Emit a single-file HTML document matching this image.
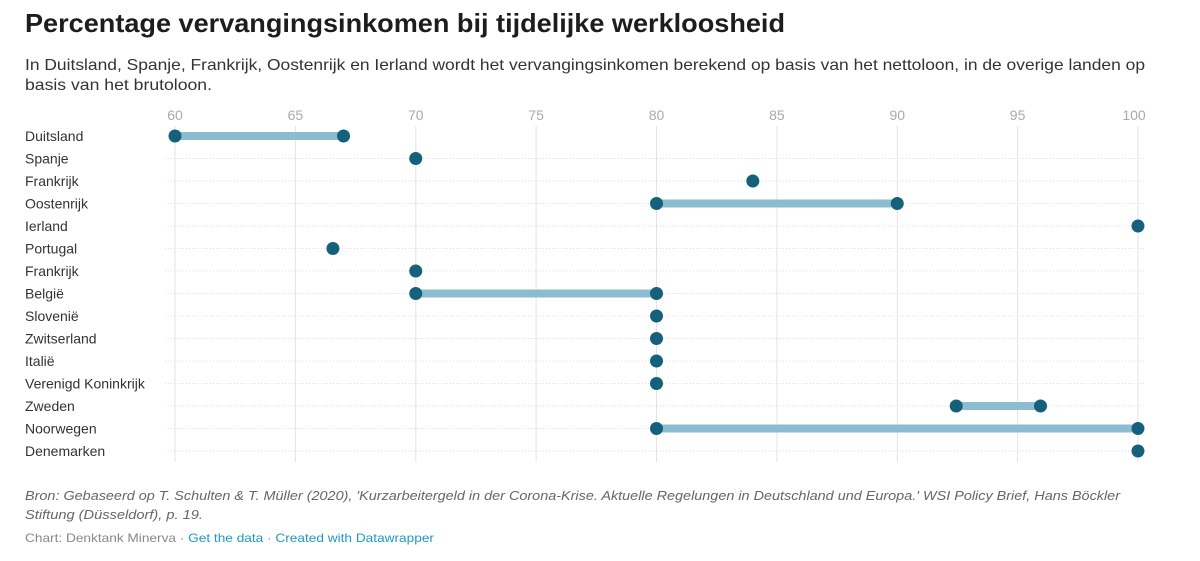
<!DOCTYPE html><html><head><meta charset="utf-8"><style>
body{margin:0;background:#fff;width:1200px;height:556px;overflow:hidden;font-family:"Liberation Sans",sans-serif}
</style></head><body>
<svg width="1200" height="556" xmlns="http://www.w3.org/2000/svg" font-family="Liberation Sans, sans-serif">
<text x="25" y="32" font-size="26" font-weight="bold" fill="#1d1d1d" textLength="760" lengthAdjust="spacingAndGlyphs">Percentage vervangingsinkomen bij tijdelijke werkloosheid</text>
<text x="25" y="70" font-size="16" fill="#333" textLength="1120" lengthAdjust="spacingAndGlyphs">In Duitsland, Spanje, Frankrijk, Oostenrijk en Ierland wordt het vervangingsinkomen berekend op basis van het nettoloon, in de overige landen op</text>
<text x="25" y="90" font-size="16" fill="#333" textLength="187" lengthAdjust="spacingAndGlyphs">basis van het brutoloon.</text>
<g font-size="14" fill="#aaa" text-anchor="middle">
<text x="175" y="120">60</text><text x="295.4" y="120">65</text><text x="415.8" y="120">70</text><text x="536.1" y="120">75</text><text x="656.5" y="120">80</text><text x="776.9" y="120">85</text><text x="897.3" y="120">90</text><text x="1017.6" y="120">95</text><text x="1134" y="120">100</text>
</g>
<g stroke="#e3e3e3" stroke-width="1">
<line x1="175" y1="126" x2="175" y2="462"/><line x1="295.4" y1="126" x2="295.4" y2="462"/><line x1="415.8" y1="126" x2="415.8" y2="462"/><line x1="536.1" y1="126" x2="536.1" y2="462"/><line x1="656.5" y1="126" x2="656.5" y2="462"/><line x1="776.9" y1="126" x2="776.9" y2="462"/><line x1="897.3" y1="126" x2="897.3" y2="462"/><line x1="1017.6" y1="126" x2="1017.6" y2="462"/><line x1="1138" y1="126" x2="1138" y2="462"/>
</g>
<g id="rows"></g>
<g font-size="14" fill="#333" id="labels"></g>
<text x="25" y="500" font-size="13" font-style="italic" fill="#666" textLength="1095" lengthAdjust="spacingAndGlyphs">Bron: Gebaseerd op T. Schulten &amp; T. Müller (2020), 'Kurzarbeitergeld in der Corona-Krise. Aktuelle Regelungen in Deutschland und Europa.' WSI Policy Brief, Hans Böckler</text>
<text x="25" y="519" font-size="13" font-style="italic" fill="#666" textLength="178" lengthAdjust="spacingAndGlyphs">Stiftung (Düsseldorf), p. 19.</text>
<text x="25" y="542" font-size="12" fill="#888" textLength="409" lengthAdjust="spacingAndGlyphs">Chart: Denktank Minerva · <tspan fill="#1d9ac4">Get the data</tspan> · <tspan fill="#1d9ac4">Created with Datawrapper</tspan></text>
<script>
var d=[["Duitsland",60,67],["Spanje",70],["Frankrijk",84],["Oostenrijk",80,90],["Ierland",100],["Portugal",66.56],["Frankrijk",70],["België",70,80],["Slovenië",80],["Zwitserland",80],["Italië",80],["Verenigd Koninkrijk",80],["Zweden",92.45,95.95],["Noorwegen",80,100],["Denemarken",100]];
var ns="http://www.w3.org/2000/svg",R=document.getElementById("rows"),L=document.getElementById("labels");
function X(v){return 175+(v-60)*24.075}
function el(p,t,a){var e=document.createElementNS(ns,t);for(var k in a)e.setAttribute(k,a[k]);p.appendChild(e);return e}
d.forEach(function(r,i){var y=136+i*22.5;
if(i>0)el(R,"line",{x1:165,x2:1145,y1:y,y2:y,stroke:"#ddd","stroke-dasharray":"1 2"});
var t=el(L,"text",{x:25,y:y+5});t.textContent=r[0];
if(r.length>2)el(R,"line",{x1:X(r[1]),x2:X(r[2]),y1:y,y2:y,stroke:"#8bbccf","stroke-width":8});
el(R,"circle",{cx:X(r[1]),cy:y,r:6.5,fill:"#15607a"});
if(r.length>2)el(R,"circle",{cx:X(r[2]),cy:y,r:6.5,fill:"#15607a"});});
</script>
</svg>
</body></html>
